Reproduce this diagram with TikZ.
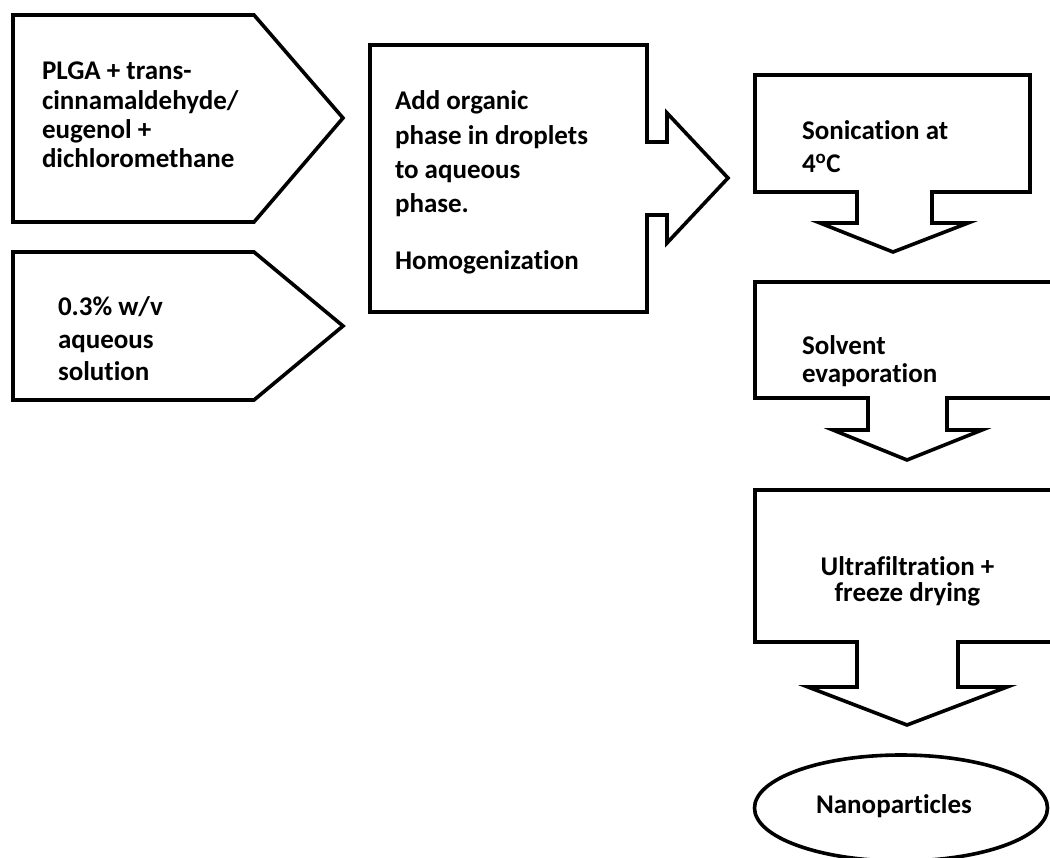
\documentclass[tikz,border=0pt]{standalone}
\usepackage{fontspec}
\setmainfont{Carlito}[Ligatures={NoCommon}]
\usetikzlibrary{shapes.geometric}

\tikzset{
  outline/.style={draw=black, line width=3.6pt, line join=miter, fill=white},
  lbl/.style={inner sep=0pt, outer sep=0pt, font=\bfseries},
}
% lines of a label: first baseline sits on the node's base anchor
\newcommand{\steplines}[3]{\fontsize{27}{#1}\selectfont\begin{tabular}[t]{@{}#2@{}}#3\end{tabular}}

\begin{document}
\begin{tikzpicture}[x=1pt, y=-1pt]
\useasboundingbox (0,0) rectangle (1050,858);
\clip (0,0) rectangle (1050,858);

% inputs
\draw[outline] (13,15) -- (254,15) -- (343,118) -- (254,222) -- (13,222) -- cycle;
\node[lbl, anchor=base west] (organic) at (42,80)
  {\steplines{29.3pt}{l}{PLGA + trans-\\cinnamaldehyde/\\eugenol +\\dichloromethane}};

\draw[outline] (13,252) -- (254,252) -- (343,326) -- (254,400) -- (13,400) -- cycle;
\node[lbl, anchor=base west] (aqueous) at (58,316)
  {\steplines{32.5pt}{l}{0.3\% w/v\\aqueous\\solution}};

% mixing step with arrow to the right
\draw[outline] (370,45) -- (647,45) -- (647,142) -- (667,142) -- (667,113) -- (728,178)
  -- (667,243) -- (667,215) -- (647,215) -- (647,312) -- (370,312) -- cycle;
\node[lbl, anchor=base west] (mixing) at (395,110)
  {\steplines{34.3pt}{l}{Add organic\\phase in droplets\\to aqueous\\phase.\\[22pt]Homogenization}};

% sonication
\draw[outline] (755,75) -- (1030,75) -- (1030,192) -- (932,192) -- (932,223) -- (968,223)
  -- (893,252) -- (820,223) -- (857,223) -- (857,192) -- (755,192) -- cycle;
\node[lbl, anchor=base west] (sonication) at (802,140)
  {\steplines{33pt}{l}{Sonication at\\4\textsuperscript{o}C}};

% solvent evaporation
\draw[outline] (755,282) -- (1070,282) -- (1070,398) -- (947,398) -- (947,430) -- (982,430)
  -- (907,460) -- (833,430) -- (868,430) -- (868,398) -- (755,398) -- cycle;
\node[lbl, anchor=base west] (evaporation) at (802,355)
  {\steplines{27pt}{l}{Solvent\\evaporation}};

% ultrafiltration and freeze drying
\draw[outline] (755,490) -- (1070,490) -- (1070,642) -- (958,642) -- (958,687) -- (1007,687)
  -- (907,725) -- (808,687) -- (857,687) -- (857,642) -- (755,642) -- cycle;
\node[lbl, anchor=base] (filtration) at (907.5,575)
  {\steplines{25pt}{c}{Ultrafiltration +\\freeze drying}};

% product
\node[outline, ellipse, minimum width=293pt, minimum height=106pt, inner sep=0pt]
  (product) at (901,808) {};
\node[lbl, anchor=base, font=\bfseries\fontsize{27}{27}\selectfont] (productlabel) at (894,813)
  {Nanoparticles};
\end{tikzpicture}
\end{document}
